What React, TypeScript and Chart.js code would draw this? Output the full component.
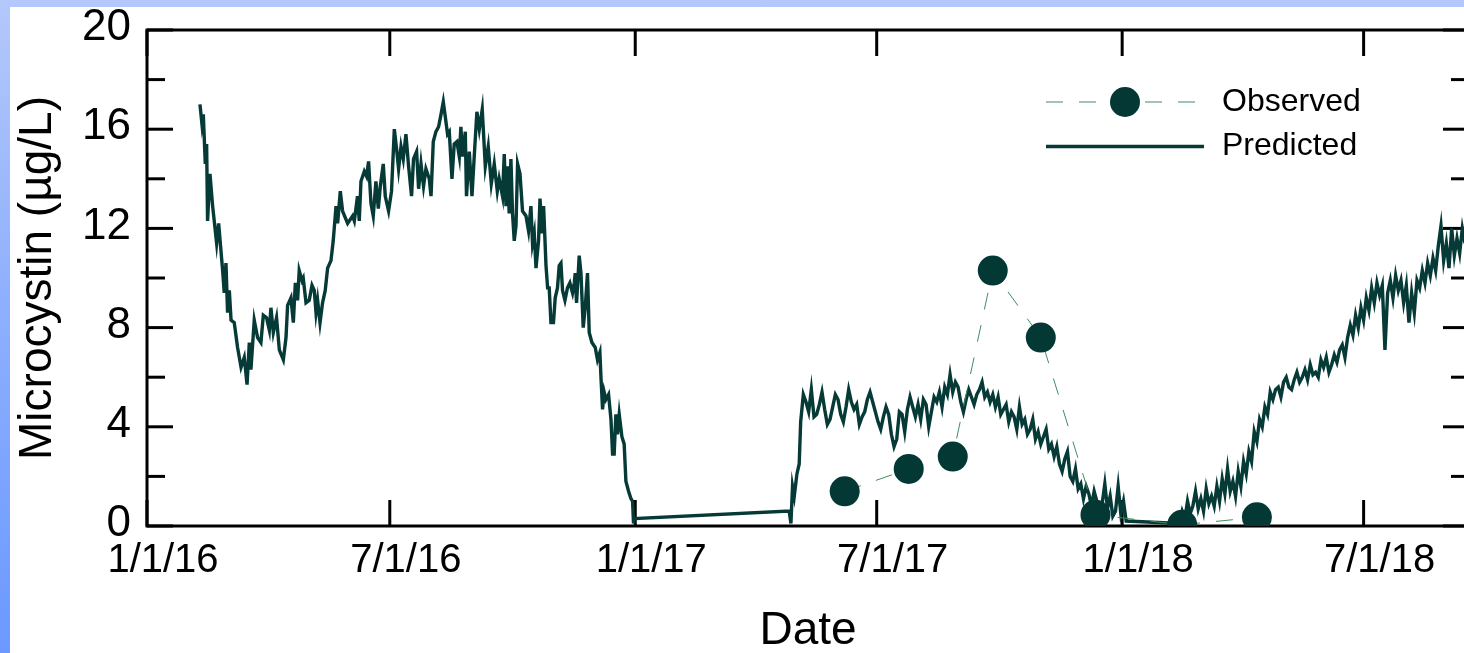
import React, { useEffect, useRef } from "react";
import { Chart, registerables } from "chart.js";

Chart.register(...registerables);

const FONT = "'Liberation Sans', Arial, Helvetica, sans-serif";
const LINE_COLOR = "#053a37";
const MARKER_COLOR = "#033835";
const DASH_COLOR = "#3f8c62";
const CANVAS_W = 1484;
const CANVAS_H = 653;

// Axis range and tick marks (dates as ISO strings, labels as printed)
const axisStart = "2016-01-01";
const axisEnd = "2018-09-18";
const tickDates = ["2016-01-01", "2016-07-01", "2017-01-01", "2017-07-01", "2018-01-01", "2018-07-01"];
const tickLabels = ["1/1/16", "7/1/16", "1/1/17", "7/1/17", "1/1/18", "7/1/18"];

// Observed microcystin samples
const observedDates = [
  "2017-06-07", "2017-07-25", "2017-08-27", "2017-09-26",
  "2017-11-01", "2017-12-12", "2018-02-15", "2018-04-12",
];
const observedValues = [1.4, 2.3, 2.8, 10.3, 7.6, 0.45, 0.05, 0.35];

// Predicted microcystin, 2016 season: days since 1/1/16 and concentration (µg/L)
const predicted2016Day = [
  39.7, 41.2, 42.2, 43.7, 44.7, 45.4, 47.2, 49.2, 52.2, 53.7, 56.7, 57.9, 59.2, 60.4, 61.7, 63.0,
  65.4, 67.9, 70.5, 72.9, 75.0, 76.7, 77.9, 80.4, 82.9, 85.4, 87.2, 89.6, 91.7, 92.9, 94.7, 97.1,
  99.2, 102.2, 104.2, 105.4, 107.9, 109.7, 111.2, 112.9, 114.1, 116.2, 117.1, 119.2, 121.6, 123.7,
  125.4, 126.7, 127.9, 129.7, 131.6, 133.6, 135.4, 137.9, 139.6, 141.7, 142.9, 144.9, 146.6, 150.4,
  154.1, 155.4, 157.8, 159.1, 160.4, 162.9, 164.6, 166.1, 167.9, 169.6, 171.6, 173.4, 174.9, 177.1,
  178.6, 181.1, 183.3, 185.4, 187.1, 188.6, 190.4, 192.1, 194.1, 196.1, 198.3, 199.8, 202.1, 203.6,
  205.4, 207.3, 209.1, 211.6, 212.9, 214.6, 216.6, 218.6, 220.4, 222.1, 223.6, 225.3, 226.6, 228.6,
  230.3, 232.3, 234.1, 235.3, 236.5, 238.6, 239.5, 241.6, 243.6, 245.3, 247.3, 249.1, 251.3, 253.6,
  255.8, 258.1, 260.3, 262.6, 264.0, 266.5, 267.8, 269.1, 270.3, 271.5, 272.8, 274.0, 275.3, 276.6,
  277.8, 279.6, 281.5, 284.1, 286.0, 287.8, 289.0, 290.3, 291.6, 293.5, 294.6, 296.1, 297.3, 299.1,
  300.3, 301.5, 302.8, 304.7, 306.0, 307.7, 309.0, 310.3, 311.5, 313.3, 315.2, 317.0, 319.0, 320.3,
  321.0, 322.0, 324.0, 325.3, 327.0, 328.5, 330.2, 331.5, 333.5, 336.0, 337.7, 339.5, 340.3, 341.5,
  342.7, 344.0, 346.0, 347.8, 349.0, 350.2, 351.5, 352.7, 354.0, 356.0, 357.7, 359.0, 361.0, 362.8,
  364.0, 364.7, 365.2,
];
const predicted2016Value = [
  17.0, 16.2, 16.6, 14.6, 15.4, 12.3, 14.2, 12.9, 11.4, 12.2, 10.3, 9.4, 10.6, 8.6, 9.5, 8.3,
  8.2, 7.2, 6.4, 6.8, 5.7, 7.4, 6.3, 8.3, 7.6, 7.4, 8.5, 8.4, 7.9, 8.8, 7.8, 8.4,
  7.1, 6.7, 7.6, 8.9, 9.2, 8.2, 9.8, 9.1, 10.3, 9.9, 10.0, 9.0, 9.1, 9.7,
  9.5, 8.6, 9.1, 8.2, 9.0, 9.5, 10.4, 10.7, 11.5, 12.9, 12.2, 13.5, 12.7, 12.2,
  12.5, 12.3, 13.3, 12.3, 13.9, 14.3, 14.1, 14.7, 13.0, 12.5, 13.9, 12.8, 13.7, 14.6,
  13.3, 12.7, 13.5, 16.0, 15.2, 14.4, 15.3, 14.8, 15.8, 14.5, 13.3, 14.8, 15.1, 13.6,
  14.6, 13.7, 14.4, 14.0, 13.3, 15.5, 15.9, 16.1, 16.6, 17.1, 16.5, 15.8, 15.9, 14.0,
  15.4, 15.5, 14.9, 16.1, 14.9, 15.9, 13.3, 15.1, 13.3, 14.9, 16.7, 16.0, 16.8, 14.5,
  15.3, 13.8, 14.6, 13.5, 14.0, 13.3, 15.0, 12.9, 14.5, 12.6, 14.8, 12.6, 11.5, 12.1,
  14.6, 14.2, 12.7, 12.5, 11.9, 12.9, 11.4, 11.8, 10.4, 11.5, 13.2, 11.8, 12.9, 10.5,
  9.6, 9.6, 8.2, 8.2, 9.2, 9.6, 10.5, 10.6, 9.5, 9.1, 9.6, 9.8, 9.4, 9.8,
  10.2, 9.0, 10.9, 10.2, 8.0, 8.8, 10.2, 7.8, 7.4, 7.2, 6.7, 7.0, 6.0, 4.7,
  5.4, 5.1, 5.3, 4.3, 2.9, 2.9, 4.5, 3.7, 4.5, 3.6, 3.3, 1.8, 1.4, 1.1,
  1.0, 0.1, 0.3,
];

// Predicted, 2017 season (every 2 days from day 490), preceded by its spring start-up
const predicted2017Day = [481.4, 482.7, 483.9, 485.2, 487.2, 488.9];
const predicted2017Start = [0.6, 0.1, 1.6, 1.2, 2.1, 2.5];
const season2017FirstDay = 490;
const season2017Value = [
  4.2, 5.3, 5.0, 4.6, 5.5, 4.4, 4.5, 4.9, 5.4, 4.7, 4.1, 4.3, 4.8, 5.3, 5.1, 4.5,
  4.2, 4.8, 5.5, 5.0, 4.7, 4.9, 4.1, 4.4, 4.6, 5.1, 5.4, 5.0, 4.6, 4.2, 3.9, 4.4,
  4.8, 4.5, 3.7, 3.2, 3.5, 4.6, 4.5, 3.8, 4.7, 5.2, 4.8, 4.4, 4.9, 4.3, 5.1, 4.9,
  4.0, 4.6, 5.2, 5.0, 5.4, 4.8, 5.6, 5.3, 6.1, 5.4, 5.8, 5.6, 5.0, 4.6, 5.1, 5.5,
  5.2, 4.9, 5.3, 5.5, 5.8, 5.2, 5.4, 5.0, 5.3, 4.8, 5.2, 4.5, 4.7, 4.9, 4.2, 4.6,
  4.4, 3.9, 4.8, 4.1, 4.3, 3.7, 3.9, 4.3, 3.5, 3.8, 3.3, 3.6, 3.9, 3.1, 3.3, 2.8,
  3.2, 2.5, 2.2, 2.7, 3.0, 2.0, 1.8, 2.3, 1.5, 1.7, 1.1, 1.6, 1.3, 0.8, 1.4, 1.0,
  0.5, 0.9, 1.7, 0.7, 1.2, 0.4, 0.6, 1.6, 0.5, 1.0, 0.2,
];

// Predicted, 2018 season (every 2 days from day 774)
const season2018FirstDay = 774;
const season2018Value = [
  0.1, 0.6, 0.3, 1.0, 0.5, 0.8, 1.4, 0.7, 1.1, 0.6, 1.5, 0.9, 1.2, 0.8, 1.6, 1.0,
  1.9, 1.3, 2.3, 1.4, 1.8, 1.2, 2.2, 1.6, 2.6, 2.1, 3.0, 2.6, 3.8, 3.4, 4.3, 4.0,
  4.8, 4.5, 5.4, 5.1, 5.5, 5.6, 5.2, 5.8, 6.0, 5.6, 5.5, 5.9, 6.2, 5.8, 6.0, 6.3,
  5.9, 6.5, 6.1, 6.2, 6.0, 6.7, 6.4, 6.8, 6.2, 6.5, 6.9, 6.6, 7.1, 7.3, 6.8, 7.6,
  8.1, 7.7, 8.5, 8.0, 8.8, 8.3, 9.2, 8.7, 9.6, 9.0, 9.8, 9.3, 9.7, 7.1, 9.4, 9.9,
  9.2, 10.1, 9.5, 9.9, 9.0, 9.7, 8.2, 9.4, 8.6, 9.9, 9.6, 10.3, 9.8, 10.6, 10.1, 10.8,
  10.3, 11.3, 12.1, 10.7, 11.4, 10.4, 12.0, 10.9, 11.6, 11.0, 12.0, 11.4,
];

const EPOCH = Date.UTC(2016, 0, 1);
const dayOf = (iso: string) => {
  const [y, m, d] = iso.split("-").map(Number);
  return Math.round((Date.UTC(y, m - 1, d) - EPOCH) / 86400000);
};
const tickDays = tickDates.map(dayOf);

const predictedPoints = [
  ...predicted2016Day.map((d, i) => ({ x: d, y: predicted2016Value[i] })),
  ...predicted2017Day.map((d, i) => ({ x: d, y: predicted2017Start[i] })),
  ...season2017Value.map((v, i) => ({ x: season2017FirstDay + 2 * i, y: v })),
  ...season2018Value.map((v, i) => ({ x: season2018FirstDay + 2 * i, y: v })),
];

// Frame with inward tick marks on all four sides
const frameTicks = {
  id: "frameTicks",
  beforeDatasetsDraw(chart: any) {
    const { ctx, chartArea } = chart;
    const { left, right, top, bottom } = chartArea;
    const xs = chart.scales.x;
    const ys = chart.scales.y;
    const seg = (x1: number, y1: number, x2: number, y2: number) => {
      ctx.beginPath();
      ctx.moveTo(x1, y1);
      ctx.lineTo(x2, y2);
      ctx.stroke();
    };
    ctx.save();
    ctx.strokeStyle = "#000";
    ctx.lineWidth = 3;
    ctx.lineCap = "butt";
    ctx.strokeRect(left, top, right - left, bottom - top);
    for (const t of ys.ticks) {
      const py = ys.getPixelForValue(t.value);
      const len = t.value % 4 === 0 ? 26 : 18;
      seg(left, py, left + len, py);
      seg(right, py, right - len, py);
    }
    for (const t of xs.ticks) {
      const px = xs.getPixelForValue(t.value);
      seg(px, bottom, px, bottom - 26);
      seg(px, top, px, top + 26);
    }
    ctx.restore();
  },
};

// Legend: line sample (with marker when the series has one) and label
const sampleLegend = {
  id: "sampleLegend",
  afterDraw(chart: any) {
    const { ctx, chartArea } = chart;
    ctx.save();
    chart.data.datasets.forEach((ds: any, i: number) => {
      const cy = chartArea.top + 72 + i * 44.5;
      const x0 = chartArea.right - 423;
      const x1 = chartArea.right - 265;
      ctx.strokeStyle = ds.borderColor;
      ctx.lineWidth = ds.borderWidth;
      ctx.setLineDash(ds.borderDash || []);
      ctx.beginPath();
      ctx.moveTo(x0, cy);
      ctx.lineTo(x1, cy);
      ctx.stroke();
      ctx.setLineDash([]);
      if (ds.pointRadius > 0) {
        ctx.fillStyle = ds.pointBackgroundColor;
        ctx.beginPath();
        ctx.arc((x0 + x1) / 2, cy, ds.pointRadius, 0, Math.PI * 2);
        ctx.fill();
      }
      ctx.fillStyle = "#000";
      ctx.font = `32px ${FONT}`;
      ctx.textBaseline = "middle";
      ctx.textAlign = "left";
      ctx.fillText(ds.label, chartArea.right - 247, cy);
    });
    ctx.restore();
  },
};

export default function App() {
  const canvasRef = useRef<HTMLCanvasElement | null>(null);

  useEffect(() => {
    const canvas = canvasRef.current;
    if (!canvas) return;
    const chart = new Chart(canvas, {
      type: "line",
      data: {
        datasets: [
          {
            label: "Observed",
            data: observedDates.map((d, i) => ({ x: dayOf(d), y: observedValues[i] })),
            borderColor: DASH_COLOR,
            borderWidth: 1,
            borderDash: [17, 16],
            pointRadius: 15,
            pointHoverRadius: 15,
            pointBackgroundColor: MARKER_COLOR,
            pointBorderWidth: 0,
            tension: 0,
          },
          {
            label: "Predicted",
            data: predictedPoints,
            borderColor: LINE_COLOR,
            borderWidth: 3.4,
            pointRadius: 0,
            tension: 0,
            borderJoinStyle: "miter",
          },
        ],
      },
      options: {
        animation: false,
        responsive: false,
        devicePixelRatio: 1,
        events: [],
        layout: { padding: { top: 30, right: 0, left: 0, bottom: 0 } },
        plugins: { legend: { display: false }, tooltip: { enabled: false } },
        scales: {
          x: {
            type: "linear",
            min: dayOf(axisStart),
            max: dayOf(axisEnd),
            grid: { display: false, drawTicks: true, tickLength: 11 },
            border: { display: false },
            afterBuildTicks: (s: any) => {
              s.ticks = tickDays.map((v) => ({ value: v }));
            },
            afterFit: (s: any) => {
              s.height = 127;
            },
            ticks: {
              autoSkip: false,
              maxRotation: 0,
              color: "#000",
              padding: 0,
              labelOffset: 16,
              font: { family: FONT, size: 40 },
              callback: (_v: any, i: number) => tickLabels[i],
            },
            title: {
              display: true,
              text: "Date",
              color: "#000",
              font: { family: FONT, size: 46, lineHeight: 0.96 },
              padding: { top: 0, bottom: 0 },
            },
          },
          y: {
            min: 0,
            max: 20,
            grid: { display: false, drawTicks: true, tickLength: 16 },
            border: { display: false },
            afterFit: (s: any) => {
              s.width = 147;
            },
            ticks: {
              stepSize: 2,
              autoSkip: false,
              color: "#000",
              padding: 0,
              labelOffset: -2,
              font: { family: FONT, size: 44 },
              callback: (v: any) => (Number(v) % 4 === 0 ? String(v) : ""),
            },
            title: {
              display: true,
              text: "Microcystin (µg/L)",
              color: "#000",
              font: { family: FONT, size: 46, lineHeight: 1 },
              padding: { top: 15, bottom: 0 },
            },
          },
        },
      },
      plugins: [frameTicks, sampleLegend],
    } as any);
    return () => chart.destroy();
  }, []);

  return (
    <div
      style={{
        position: "fixed",
        inset: 0,
        overflow: "hidden",
        background: "linear-gradient(to bottom, #b4c8fb 0%, #8fb0fd 45%, #6b99ff 100%)",
      }}
    >
      <div style={{ position: "absolute", left: 10, top: 7, right: 0, bottom: 0, background: "#fff" }} />
      <canvas
        ref={canvasRef}
        width={CANVAS_W}
        height={CANVAS_H}
        style={{ position: "absolute", left: 0, top: 0, width: `${CANVAS_W}px`, height: `${CANVAS_H}px` }}
      />
    </div>
  );
}
